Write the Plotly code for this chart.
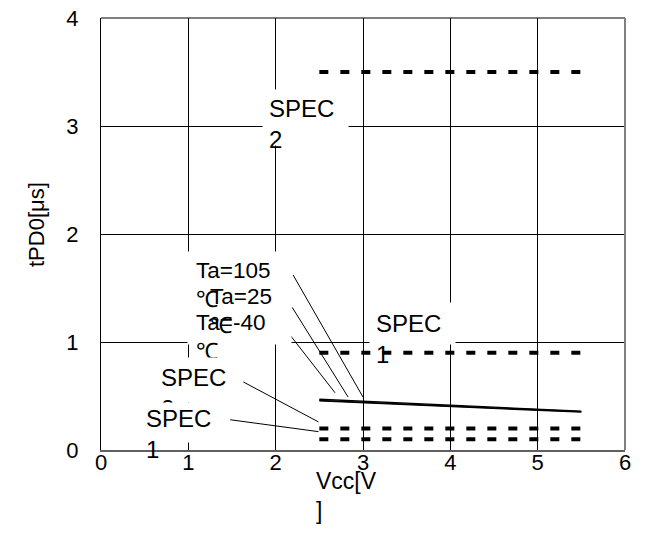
import plotly.graph_objects as go

# ---- data ----
vcc = [2.5, 5.5]
ta_105 = [0.47, 0.36]
ta_25 = [0.46, 0.355]
ta_m40 = [0.455, 0.35]

spec_x = [2.5, 5.5]
spec2_high = [3.5, 3.5]
spec1_high = [0.9, 0.9]
spec2_low = [0.2, 0.2]
spec1_low = [0.1, 0.1]

x_ticks = [0, 1, 2, 3, 4, 5, 6]
y_ticks = [0, 1, 2, 3, 4]

FONT = "Arial, Liberation Sans, sans-serif"

fig = go.Figure()

for ys in [spec2_high, spec1_high, spec2_low, spec1_low]:
    fig.add_trace(go.Scatter(x=spec_x, y=ys, mode="lines",
                             line=dict(color="black", width=4, dash="9px,12px"),
                             showlegend=False, hoverinfo="skip"))

for ys in [ta_105, ta_25, ta_m40]:
    fig.add_trace(go.Scatter(x=vcc, y=ys, mode="lines",
                             line=dict(color="black", width=1.3),
                             showlegend=False, hoverinfo="skip"))

# leader lines
leaders = [
    (2.20, 1.62, 3.00, 0.49),
    (2.19, 1.32, 2.83, 0.49),
    (2.14, 1.09, 2.68, 0.53),
    (1.63, 0.63, 2.49, 0.26),
    (1.48, 0.28, 2.49, 0.17),
]
shapes = []
for x0, y0, x1, y1 in leaders:
    shapes.append(dict(type="line", xref="x", yref="y", x0=x0, y0=y0, x1=x1, y1=y1,
                       line=dict(color="black", width=1), layer="above"))
# right border and top edge
shapes.append(dict(type="line", xref="paper", yref="paper", x0=1, x1=1, y0=0, y1=1,
                   line=dict(color="#808080", width=2), layer="above"))
shapes.append(dict(type="line", xref="paper", yref="paper", x0=0, x1=1, y0=1, y1=1,
                   line=dict(color="black", width=1), layer="below"))

annotations = []

def box(cx, cy, w, h):
    annotations.append(dict(x=cx, y=cy, xref="x", yref="y", text=" ", showarrow=False,
                            width=w, height=h, bgcolor="white", borderpad=0,
                            xanchor="center", yanchor="middle"))

def label(x, y, text, size=23):
    annotations.append(dict(x=x, y=y, xref="x", yref="y", text=text, showarrow=False,
                            xanchor="left", yanchor="middle", align="left",
                            font=dict(family=FONT, size=size, color="black")))

# top SPEC 2
box(2.342, 3.079, 85, 55)
label(1.90, 3.02, "SPEC<br>2", 24)
# mid SPEC 1
box(3.567, 1.171, 85, 41)
label(3.13, 1.03, "SPEC<br>1", 24)
# Ta labels
box(1.586, 1.407, 103, 92)
label(1.07, 1.53, "Ta=105<br>℃", 22.5)
label(1.23, 1.29, "Ta=25<br>℃", 22.5)
label(1.07, 1.045, "Ta=-40<br>℃", 22.5)
# lower SPEC 2
box(1.076, 0.648, 80, 44)
label(0.66, 0.53, "SPEC<br>2", 24)
# lower SPEC 1
box(0.916, 0.255, 82, 39)
label(0.49, 0.15, "SPEC<br>1", 24)

# axis titles
annotations.append(dict(x=-0.122, y=0.521, xref="paper", yref="paper", text="tPD0[μs]",
                        textangle=-90, showarrow=False, xanchor="center", yanchor="middle",
                        font=dict(family=FONT, size=22, color="black")))
annotations.append(dict(x=0.407, y=-0.106, xref="paper", yref="paper", text="Vcc[V<br>]",
                        showarrow=False, xanchor="left", yanchor="middle", align="left",
                        font=dict(family=FONT, size=23, color="black")))

fig.update_layout(
    width=648, height=556,
    margin=dict(l=93, r=31, t=10, b=114),
    paper_bgcolor="white", plot_bgcolor="white",
    font=dict(family=FONT, size=22, color="black"),
    shapes=shapes, annotations=annotations,
    showlegend=False,
)
fig.update_xaxes(range=[0, 6], tickvals=x_ticks, ticktext=[str(v) for v in x_ticks],
                 showgrid=True, gridcolor="black", gridwidth=1,
                 showline=True, linecolor="#606060", linewidth=2,
                 zeroline=False, ticks="", ticklabelstandoff=-8,
                 ticklabeloverflow="allow", automargin=False,
                 tickfont=dict(family=FONT, size=22, color="black"))
fig.update_yaxes(range=[0, 4], tickvals=y_ticks, ticktext=[str(v) for v in y_ticks],
                 showgrid=True, gridcolor="black", gridwidth=1,
                 showline=True, linecolor="black", linewidth=1,
                 zeroline=False, ticks="", ticklabelstandoff=17,
                 ticklabeloverflow="allow", automargin=False,
                 tickfont=dict(family=FONT, size=22, color="black"))

fig.write_html("out.html")
